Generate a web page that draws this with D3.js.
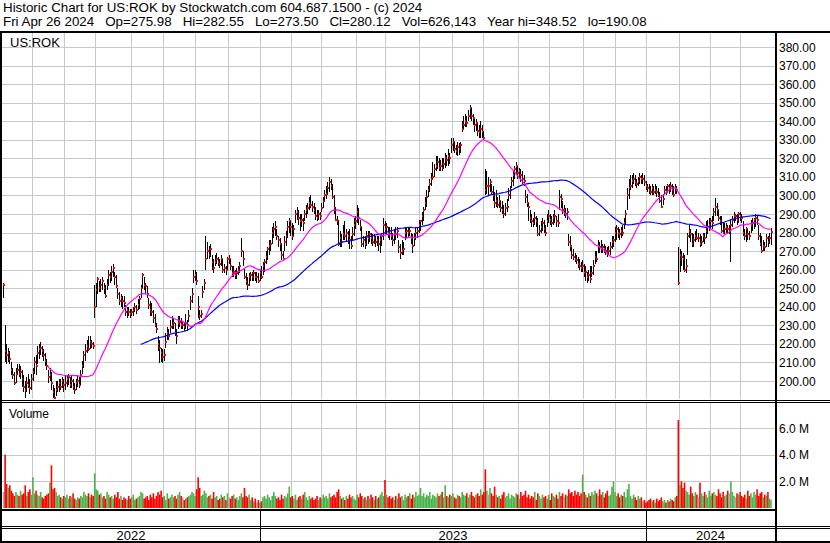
<!DOCTYPE html>
<meta charset="utf-8">
<style>
body { margin: 0; background: #fff; }
text { font-family: "Liberation Sans", Arial, sans-serif; fill: #000; }
.grid line { stroke: #c8c8c8; stroke-width: 1px; shape-rendering: crispEdges; }
.frame { fill: #000; shape-rendering: crispEdges; }
.ma { fill: none; stroke-width: 1.2px; }
</style>
<body>
<script src="https://cdn.jsdelivr.net/npm/d3@7"></script>
<script>

// daily bars, first one is Wed May 4 2022, last is Fri Apr 26 2024
var closes = [
  252,216,214,215,212,206,203,199,204,206, 204,205,201,197,195,199,198,196,201,205,
  210,208,215,217,218,216,214,211,208,202, 203,199,194,191,195,197,199,197,200,198,
  199,201,202,198,200,197,195,199,200,198, 203,208,214,216,219,217,221,220,219,240,
  249,255,250,252,254,250,246,252,257,256, 259,261,256,251,247,243,245,243,242,237,
  238,237,236,237,238,240,238,241,244,250, 257,252,251,247,241,238,237,234,230,228,
  220,218,215,213,214,221,226,224,229,230, 231,226,224,231,232,230,230,229,231,230,
  235,243,247,256,257,254,240,235,236,248, 253,266,270,268,271,264,261,264,266,264,
  263,266,260,261,260,266,266,262,258,259, 257,258,260,262,270,266,256,254,252,256,
  257,256,258,256,256,254,258,256,262,264, 267,271,273,274,280,282,283,278,276,274,
  268,266,275,278,283,286,283,278,282,290, 291,288,286,287,285,290,292,293,296,295,
  294,292,289,288,290,289,293,297,300,301, 304,307,305,299,293,287,286,274,277,275,
  279,278,280,278,276,273,279,284,286,291, 288,283,274,276,274,278,277,279,277,275,
  277,275,276,274,276,278,284,282,283,280, 279,278,276,280,279,281,272,269,270,271,
  280,281,280,281,277,273,277,280,281,284, 286,289,292,296,299,303,306,309,310,314,
  316,318,315,316,315,317,320,319,321,320, 327,329,325,324,326,325,327,336,338,340,
  339,343,347,343,342,338,339,335,334,336, 334,331,303,305,305,307,302,300,296,297,
  295,297,293,292,290,293,294,300,303,308, 311,314,316,312,313,311,309,308,299,296,
  294,288,286,285,288,286,279,281,283,285, 282,280,286,289,287,285,288,289,286,285,
  299,298,292,292,290,291,275,273,268,267, 266,265,263,262,261,262,258,259,256,257,
  255,258,262,267,266,273,272,271,272,271, 270,269,270,272,275,276,280,282,280,279,
  281,280,285,290,300,304,305,308,309,307, 306,308,310,309,309,307,305,304,303,302,
  304,302,303,302,300,297,294,298,303,302, 305,304,305,303,300,304,303,253,268,267,
  266,260,262,278,281,279,274,276,278,277, 277,274,275,278,277,281,283,284,286,285,
  291,294,292,288,286,281,280,282,283,282, 282,284,287,289,289,287,290,289,288,280,
  278,282,279,278,284,285,287,288,287,278, 274,270,273,272,277,275,277,280.12
];

var highs = [
  253,230,220,218,216,210,207,205,207,209, 209,208,206,203,200,202,204,201,204,207,
  213,214,219,220,221,219,217,215,212,206, 207,205,198,196,200,200,201,201,202,201,
  203,203,204,202,203,201,199,201,203,202, 206,211,216,220,222,224,224,222,221,252,
  253,256,254,255,256,253,252,255,260,259, 262,263,259,257,250,248,247,246,246,241,
  240,240,239,239,240,242,241,244,246,252, 258,256,253,251,245,243,242,238,236,231,
  224,222,218,217,217,226,229,228,233,235, 234,231,228,235,235,234,232,232,236,233,
  238,246,250,260,260,259,246,238,238,251, 255,278,275,273,274,268,266,268,269,267,
  266,268,266,263,262,267,268,266,262,262, 260,261,262,264,277,270,261,258,256,258,
  259,259,260,259,259,258,260,262,264,266, 270,272,276,276,283,285,286,282,278,277,
  274,270,278,281,286,288,286,285,284,292, 294,292,290,290,288,292,295,296,299,300,
  297,296,294,292,292,291,296,299,303,305, 307,310,309,306,300,294,289,287,281,279,
  284,286,282,281,282,278,283,288,289,295, 293,287,283,278,278,281,281,281,280,279,
  279,278,278,278,279,280,288,286,285,283, 283,283,280,282,283,283,276,274,276,275,
  283,283,283,283,280,279,280,283,283,287, 287,291,294,299,303,305,309,312,318,317,
  321,321,320,319,320,320,323,322,325,323, 331,331,329,327,329,328,329,340,343,344,
  343,346,348.52,347,344,341,341,339,338,340, 338,335,314,313,310,309,306,305,302,303,
  299,300,297,297,295,296,298,304,305,310, 313,316,318,316,315,314,313,311,303,301,
  296,292,290,288,291,289,288,284,286,288, 287,284,290,292,290,289,290,292,289,290,
  303,301,297,295,293,293,279,278,272,271, 269,268,267,266,264,265,263,262,259,260,
  262,262,265,270,270,276,275,276,274,274, 273,272,273,275,278,278,283,284,283,282,
  283,284,288,292,304,309,311,311,312,311, 309,310,312,311,312,311,308,306,306,305,
  306,305,306,305,304,302,300,301,305,305, 306,306,307,306,305,306,305,272,271,270,
  269,268,266,280,284,282,280,279,281,282, 280,279,278,280,280,286,287,288,288,289,
  293,298.4,296,292,289,289,285,285,285,284, 284,287,289,291,290,290,291,291,290,286,
  282,283,282,281,287,288,288,290,289,284, 280,278,276,275,279,278,280,282.55
];

var lows = [
  245,210,209,210,209,203,201,198,199,203, 202,201,197,194,191,194,196,193,195,200,
  204,203,209,212,214,213,211,208,206,199, 200,195,191,190.08,192,194,194,195,196,194,
  195,197,198,196,196,195,193,195,197,196, 198,204,207,211,215,216,217,218,217,234,
  240,247,248,248,249,247,245,249,251,253, 254,256,252,250,244,241,240,239,240,235,
  234,235,234,235,235,237,236,238,239,245, 250,249,247,245,239,235,235,231,229,226,
  216,209.5,210,209.5,211,218,222,222,226,228, 228,224,220,228,229,228,228,227,228,227,
  232,238,242,253,254,252,234,233,234,245, 249,260,266,266,267,260,258,262,263,262,
  261,262,258,258,257,260,263,260,256,256, 255,255,257,258,267,262,255,252,249,251,
  254,254,254,254,253,253,254,255,257,259, 263,265,268,270,274,277,278,276,272,270,
  265,265,270,273,277,280,278,276,278,285, 287,284,281,283,281,286,288,290,292,293,
  291,290,287,286,287,287,291,293,297,298, 300,302,303,298,290,286,284,273,272,272,
  276,276,275,274,271,271,276,278,282,285, 284,281,272,272,271,273,274,275,274,273,
  274,272,273,270,269,273,276,279,279,277, 276,276,273,274,276,277,269,266,268,268,
  276,277,277,278,274,269,273,276,277,280, 281,284,286,292,294,299,302,305,309,310,
  313,314,313,313,313,314,315,316,316,317, 323,324,323,322,321,322,323,334,336,337,
  337,340,341,340,338,334,335,332,331,331, 331,330,300,301,300,302,300,297,293,294,
  293,293,291,290,288,289,291,297,298,304, 305,309,311,309,309,307,306,305,296,294,
  286,285,283,283,284,283,278,278,280,281, 280,278,283,285,284,283,284,285,283,283,
  292,293,290,289,288,287,273,270,266,265, 264,263,261,260,259,259,256,254,253,254,
  253,256,257,263,264,269,269,269,269,269, 268,267,268,268,271,272,275,276,277,276,
  277,278,282,284,292,298,303,304,306,305, 304,305,306,306,306,305,303,302,301,300,
  300,300,301,299,299,296,293,295,301,300, 302,301,302,300,299,301,301,251.5,259,262,
  260,259,258,268,277,275,272,272,275,276, 275,272,273,275,274,277,279,281,282,282,
  286,289,289,286,284,280,279,279,280,279, 279,264,283,285,286,284,285,286,285,278,
  276,275,276,276,280,281,282,283,284,276, 273,269,270,270,272,272,274,273.5
];

// volume in units of 100,000 shares
var volumes = [
  12,40,18,15,17,13,11,9,12,10, 9,13,10,11,17,9,12,14,10,23,
  11,13,10,9,12,8,7,9,10,11, 19,32,14,15,12,9,10,8,7,9,
  8,10,7,9,8,11,7,6,8,7, 9,8,12,10,9,11,8,10,9,26,
  14,13,10,11,8,9,7,12,10,8, 9,7,10,8,12,7,9,6,8,7,
  6,9,7,8,10,6,7,8,9,12, 11,7,8,9,6,10,8,11,7,9,
  12,10,13,8,9,6,11,7,8,10, 8,9,7,10,12,9,8,6,7,8,
  9,10,12,11,9,14,23,15,9,10, 13,11,8,9,10,7,12,8,9,6,
  7,10,8,9,6,11,8,7,9,10, 7,8,6,9,11,8,15,9,8,10,
  6,8,5,7,4,6,4,5,8,9, 7,10,8,6,9,12,9,7,8,6,
  10,7,9,8,11,16,8,9,7,10, 6,8,9,7,10,12,8,6,9,7,
  8,6,7,9,6,8,7,10,8,9, 7,11,8,9,10,8,12,14,9,7,
  8,6,9,7,10,8,9,7,6,10, 8,11,9,7,8,6,9,7,10,8,
  6,9,7,8,10,12,9,21,10,8, 9,7,8,6,9,7,11,8,9,6,
  10,8,9,11,7,10,8,12,9,10, 15,9,11,8,10,9,12,7,10,9,
  8,11,9,10,12,8,17,9,8,10, 9,11,8,7,10,9,8,12,10,9,
  11,8,10,12,9,8,10,11,9,14, 10,12,29,13,10,15,11,9,16,10,
  8,9,7,10,12,8,9,11,7,10, 9,8,11,10,7,12,9,10,13,8,
  10,7,9,8,12,6,11,9,7,10, 8,9,7,10,6,11,9,8,10,7,
  12,9,11,8,10,9,14,11,12,9, 13,10,12,9,11,25,12,10,8,11,
  9,12,10,13,11,9,14,10,12,8, 11,13,9,10,16,20,12,9,11,8,
  10,9,12,8,14,18,9,7,10,8, 6,9,7,8,5,6,4,5,6,7,
  5,6,4,7,5,6,8,5,6,4, 6,5,7,6,5,8,9,66,17,20,
  15,19,13,12,10,16,11,9,12,10, 8,19,11,9,12,10,8,13,9,11,
  12,10,9,14,11,8,12,9,10,13, 11,20,12,9,8,11,10,12,9,8,
  10,7,13,9,11,8,12,10,14,9, 11,12,8,10,9,12,7,6.3
];

var startDate = "2022-05-04";
var holidays = ["2022-05-30", "2022-06-20", "2022-07-04", "2022-09-05", "2022-11-24", "2022-12-26",
  "2023-01-02", "2023-01-16", "2023-02-20", "2023-04-07", "2023-05-29", "2023-06-19", "2023-07-04",
  "2023-09-04", "2023-11-23", "2023-12-25", "2024-01-01", "2024-01-15", "2024-02-19", "2024-03-29"];

var priceTicks = d3.range(200, 381, 10);
var volumeTicks = [2e6, 4e6, 6e6];
var shortPeriod = 30, longPeriod = 90;

var header1 = "Historic Chart for US:ROK by Stockwatch.com 604.687.1500 - (c) 2024";
var header2 = ["Fri Apr 26 2024", "Op=275.98", "Hi=282.55", "Lo=273.50", "Cl=280.12",
               "Vol=626,143", "Year hi=348.52", "lo=190.08"];
var symbol = "US:ROK";

var width = 830, height = 543;
var left = 2, right = 775;
var priceTop = 33, priceBottom = 399, volTop = 403, volBottom = 509;

// trading calendar
var parseDay = d3.timeParse("%Y-%m-%d"), fmtDay = d3.timeFormat("%Y-%m-%d");
var days = [], d = parseDay(startDate);
while (days.length < closes.length) {
  var wd = d.getDay();
  if (wd !== 0 && wd !== 6 && holidays.indexOf(fmtDay(d)) < 0) days.push(d);
  d = d3.timeDay.offset(d, 1);
}

var bars = closes.map(function(c, i) {
  return {i: i, date: days[i], close: c, high: highs[i], low: lows[i], volume: volumes[i] * 1e5,
          change: i ? c - closes[i - 1] : 0};
});

function sma(n) {
  var out = [];
  for (var i = n - 1; i < closes.length; i++) {
    out.push({i: i, v: d3.mean(closes.slice(i - n + 1, i + 1))});
  }
  return out;
}

var monthStarts = bars.filter(function(b, i) { return i > 0 && b.date.getMonth() !== days[i - 1].getMonth(); });
var yearStarts = bars.filter(function(b, i) { return i > 0 && b.date.getFullYear() !== days[i - 1].getFullYear(); });

var x = d3.scaleLinear().domain([0, closes.length - 1]).range([3.2, 770.6]);
var y = d3.scaleLinear().domain([200, 380]).range([381, 47]);
var yv = d3.scaleLinear().domain([0, 6e6]).range([508, 428]);

var svg = d3.select("body").append("svg")
    .attr("width", width)
    .attr("height", height);

svg.append("rect").attr("width", width).attr("height", height).attr("fill", "#fff");

// header
svg.append("text").attr("x", 3).attr("y", 12).style("font-size", "13.33px").text(header1);
svg.append("text").attr("x", 3).attr("y", 26).style("font-size", "13.33px")
    .style("white-space", "pre").text(header2.join("   "));

function gx(i) { return Math.round(x(i - 0.5)) + 0.5; }

// grids
var grid = svg.append("g").attr("class", "grid");
grid.selectAll(".hp").data(priceTicks).enter().append("line")
    .attr("x1", left).attr("x2", right)
    .attr("y1", function(t) { return Math.round(y(t)) + 0.5; })
    .attr("y2", function(t) { return Math.round(y(t)) + 0.5; });
grid.selectAll(".hv").data(volumeTicks).enter().append("line")
    .attr("x1", left).attr("x2", right)
    .attr("y1", function(t) { return Math.round(yv(t)) + 0.5; })
    .attr("y2", function(t) { return Math.round(yv(t)) + 0.5; });
grid.selectAll(".vp").data(monthStarts).enter().append("line")
    .attr("x1", function(b) { return gx(b.i); }).attr("x2", function(b) { return gx(b.i); })
    .attr("y1", priceTop).attr("y2", priceBottom);
grid.selectAll(".vv").data(monthStarts).enter().append("line")
    .attr("x1", function(b) { return gx(b.i); }).attr("x2", function(b) { return gx(b.i); })
    .attr("y1", volTop).attr("y2", volBottom);

svg.append("text").attr("x", 10).attr("y", 47).style("font-size", "13px").text(symbol);
svg.append("text").attr("x", 9).attr("y", 418).style("font-size", "12px").text("Volume");

// price bars: each bar draws its high-low stroke then its close mark
var pg = svg.append("g").style("shape-rendering", "crispEdges");
var bar = pg.selectAll("g").data(bars).enter().append("g");
bar.append("rect")
    .attr("x", function(b) { return Math.round(x(b.i)); })
    .attr("width", 1)
    .attr("y", function(b) { return Math.round(y(b.high)); })
    .attr("height", function(b) { return Math.max(1, Math.round(y(b.low)) - Math.round(y(b.high))); })
    .attr("fill", "#000");
bar.append("rect")
    .attr("x", function(b) { return Math.round(x(b.i)); })
    .attr("width", 2)
    .attr("y", function(b) { return Math.round(y(b.close)) - 1; })
    .attr("height", 2)
    .attr("fill", "#f00");

var line = d3.line()
    .x(function(p) { return x(p.i); })
    .y(function(p) { return y(p.v); });
svg.append("path").datum(sma(longPeriod)).attr("class", "ma").attr("stroke", "#0000ff").attr("d", line);
svg.append("path").datum(sma(shortPeriod)).attr("class", "ma").attr("stroke", "#ff00ff").attr("d", line);

// volume bars
svg.append("g").selectAll("rect").data(bars).enter().append("rect")
    .attr("x", function(b) { return x(b.i) - 0.4; })
    .attr("width", 1.6)
    .attr("y", function(b) { return yv(b.volume); })
    .attr("height", function(b) { return yv(0) - yv(b.volume); })
    .attr("fill", function(b) { return b.change > 0 ? "#4cb34c" : b.change < 0 ? "#ff0000" : "#a8a8a8"; });

// axis labels
svg.selectAll(".pl").data(priceTicks).enter().append("text")
    .attr("x", 779).attr("y", function(t) { return y(t) + 4.5; })
    .style("font-size", "12px").text(d3.format(".2f"));
svg.selectAll(".vl").data(volumeTicks).enter().append("text")
    .attr("x", 779).attr("y", function(t) { return yv(t) + 4.5; })
    .style("font-size", "12px").text(function(t) { return d3.format(".1f")(t / 1e6) + " M"; });

// frame
function box(x0, y0, w, h) {
  svg.append("rect").attr("class", "frame").attr("x", x0).attr("y", y0).attr("width", w).attr("height", h);
}
box(0, 31, width, 2);
box(0, 31, 2, height - 31);
box(right, 31, 2, height - 31);
box(0, 400, width, 1);
box(0, 402, width, 1);
box(0, 509, right, 2);
box(0, 526, width, 1);
box(0, 528, width, 1);
box(0, 541, width, 2);

var yearEdges = [left].concat(yearStarts.map(function(b) { return gx(b.i) - 0.5; }), [right]);
yearStarts.forEach(function(b) { box(gx(b.i) - 0.5, 511, 1, 30); });
d3.pairs(yearEdges).forEach(function(p, k) {
  svg.append("text").attr("x", (p[0] + p[1]) / 2).attr("y", 540)
      .attr("text-anchor", "middle").style("font-size", "13px")
      .text(days[0].getFullYear() + k);
});

</script>
